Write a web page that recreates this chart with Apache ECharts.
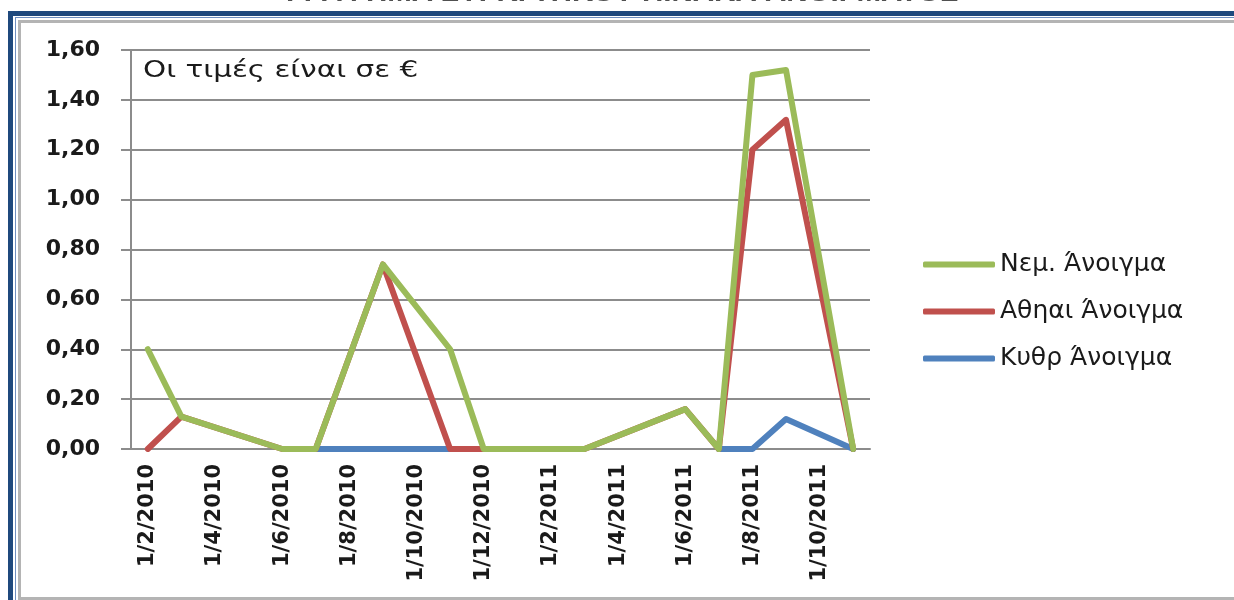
<!DOCTYPE html>
<html>
<head>
<meta charset="utf-8">
<script src="https://cdn.jsdelivr.net/npm/echarts@6/dist/echarts.min.js"></script>
<style>
  html, body { margin: 0; padding: 0; background: #fff; overflow: hidden; }
  .frame { position: absolute; box-sizing: border-box; }
  #f1 { left: 8px; top: 11px; width: 1400px; height: 800px; border-left: 5px solid #1f497d; border-top: 5px solid #1f497d; }
  #f2 { left: 15px; top: 17px; width: 1400px; height: 800px; border-left: 1px solid #6f8fc0; border-top: 1px solid #6f8fc0; }
  #f3 { left: 18px; top: 20px; width: 1400px; height: 580px; border-left: 3px solid #b4b4b4; border-top: 3px solid #b4b4b4; border-bottom: 3px solid #b4b4b4; }
  #chart { position: absolute; left: 0; top: 0; width: 1234px; height: 600px; }
</style>
</head>
<body>
<div class="frame" id="f1"></div>
<div class="frame" id="f2"></div>
<div class="frame" id="f3"></div>
<div id="chart"></div>
<script>
// month slots on the date axis (d/m/yyyy)
const months = [
  '1/2/2010', '1/3/2010', '1/4/2010', '1/5/2010', '1/6/2010', '1/7/2010',
  '1/8/2010', '1/9/2010', '1/10/2010', '1/11/2010', '1/12/2010',
  '1/1/2011', '1/2/2011', '1/3/2011', '1/4/2011', '1/5/2011', '1/6/2011',
  '1/7/2011', '1/8/2011', '1/9/2011', '1/10/2011', '1/11/2011'
]

// dates that have a row in the table
const rowDates = [
  '1/2/2010', '1/3/2010', '1/6/2010', '1/7/2010', '1/9/2010', '1/11/2010', '1/12/2010',
  '1/3/2011', '1/6/2011', '1/7/2011', '1/8/2011', '1/9/2011', '1/11/2011'
]
const nem   = [0.40, 0.13, 0, 0, 0.74, 0.40, 0, 0, 0.16, 0, 1.50, 1.52, 0]
const athai = [0, 0.13, 0, 0, 0.74, 0, 0, 0, 0.16, 0, 1.20, 1.32, 0]
const kythr = [null, null, null, 0, 0, 0, null, null, null, 0, 0, 0.12, 0]

const names = ['Νεμ. Άνοιγμα', 'Αθηαι Άνοιγμα', 'Κυθρ Άνοιγμα']
const colors = ['#9bbb59', '#c0504d', '#4f81bd']

const pairs = vals => rowDates.map((d, i) => [d, vals[i] == null ? '-' : vals[i]])

const chart = echarts.init(document.getElementById('chart'))
const axisGray = '#8c8c8c'
const txt = '#1a1a1a'

chart.setOption({
  animation: false,
  grid: { left: 131, right: 364, top: 50, bottom: 151 },
  legend: {
    orient: 'vertical',
    left: 918, top: 247,
    itemGap: 22,
    itemWidth: 72, itemHeight: 6,
    icon: 'roundRect',
    data: names,
    textStyle: { fontFamily: 'DejaVu Sans', fontSize: 25, color: txt }
  },
  xAxis: {
    type: 'category',
    data: months,
    boundaryGap: true,
    axisLine: { lineStyle: { color: axisGray, width: 2 } },
    axisTick: { interval: 1, length: 9, lineStyle: { color: axisGray, width: 2 } },
    axisLabel: {
      interval: 1, rotate: 90, margin: 15,
      fontFamily: 'DejaVu Sans', fontWeight: 'bold', fontSize: 21, color: txt
    },
    splitLine: { show: false }
  },
  yAxis: {
    type: 'value',
    min: 0, max: 1.6, interval: 0.2,
    axisLine: { show: true, lineStyle: { color: axisGray, width: 2 } },
    axisTick: { show: true, length: 10, lineStyle: { color: axisGray, width: 2 } },
    axisLabel: {
      margin: 31,
      fontFamily: 'DejaVu Sans', fontWeight: 'bold', fontSize: 22, color: txt,
      formatter: v => v.toFixed(2).replace('.', ',')
    },
    splitLine: { lineStyle: { color: axisGray, width: 2 } }
  },
  graphic: [
    {
      type: 'text', x: 622, y: 6, scaleX: 1.23,
      style: {
        text: 'ΓΡΑΦΗΜΑ ΣΥΓΚΡΙΤΙΚΟΥ ΠΙΝΑΚΑ ΑΝΟΙΓΜΑΤΟΣ',
        font: 'bold 24px "Liberation Sans"', fill: '#505050',
        align: 'center', verticalAlign: 'bottom'
      }
    },
    {
      type: 'text', x: 143, y: 71, scaleX: 1.28,
      style: {
        text: 'Οι τιμές είναι σε €',
        font: '23px "DejaVu Sans"', fill: txt,
        align: 'left', verticalAlign: 'middle'
      }
    }
  ],
  series: [
    { name: names[2], type: 'line', data: pairs(kythr), connectNulls: false },
    { name: names[1], type: 'line', data: pairs(athai) },
    { name: names[0], type: 'line', data: pairs(nem) }
  ].map(s => {
    const c = colors[names.indexOf(s.name)]
    return Object.assign(s, {
      symbol: 'none', color: c,
      lineStyle: { color: c, width: 6, cap: 'round', join: 'round' },
      itemStyle: { color: c }
    })
  })
})
</script>
</body>
</html>
